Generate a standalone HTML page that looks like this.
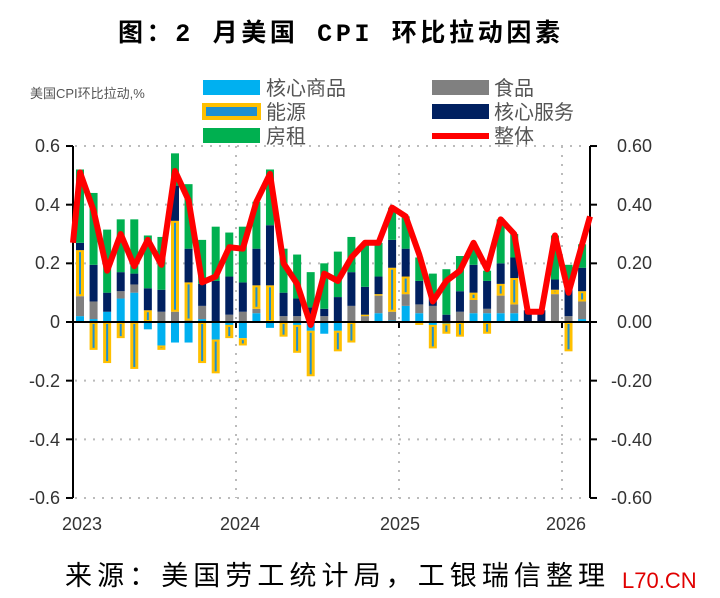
<!DOCTYPE html>
<html><head><meta charset="utf-8"><style>
body{margin:0;background:#fff;width:720px;height:598px;overflow:hidden;font-family:"Liberation Sans","Noto Sans CJK SC",sans-serif}
</style></head><body>
<svg id="s" width="720" height="598" xmlns="http://www.w3.org/2000/svg" style="position:absolute;left:0;top:0">
<text x="118" y="41" textLength="442" lengthAdjust="spacing" font-size="25" font-weight="bold" font-family="Liberation Mono,'Noto Sans CJK SC',sans-serif" fill="#000">图：2 月美国 CPI 环比拉动因素</text>
<text x="30" y="98" font-size="13" fill="#555">美国CPI环比拉动,%</text>
<rect x="203" y="80" width="57" height="15" fill="#00b0f0"/>
<text x="266" y="95" font-size="20" fill="#555">核心商品</text>
<rect x="204" y="105" width="55" height="13" fill="#1f8fd0" stroke="#ffc000" stroke-width="4"/>
<text x="266" y="119" font-size="20" fill="#555">能源</text>
<rect x="203" y="128" width="57" height="15" fill="#00b050"/>
<text x="266" y="143" font-size="20" fill="#555">房租</text>
<rect x="432" y="80" width="57" height="15" fill="#808080"/>
<text x="494" y="95" font-size="20" fill="#555">食品</text>
<rect x="432" y="104" width="57" height="15" fill="#002060"/>
<text x="494" y="119" font-size="20" fill="#555">核心服务</text>
<rect x="432" y="133" width="57" height="6" fill="#ff0000"/>
<text x="494" y="143" font-size="20" fill="#555">整体</text>
<g id="grid" stroke="#bbb" stroke-width="2" stroke-dasharray="2,7"></g>
<g id="bars"></g>
<line x1="73" y1="322" x2="590" y2="322" stroke="#000" stroke-width="2"/>
<line x1="73" y1="146" x2="73" y2="498" stroke="#000" stroke-width="2"/>
<line x1="590" y1="146" x2="590" y2="498" stroke="#000" stroke-width="2"/>
<g id="ticks" stroke="#000" stroke-width="2"></g>
<polyline id="ln" fill="none" stroke="#ff0000" stroke-width="6" stroke-linejoin="round"/>
<g font-size="18" fill="#333" text-anchor="end">
<text x="60" y="152">0.6</text><text x="60" y="211">0.4</text><text x="60" y="269">0.2</text><text x="60" y="328">0</text>
<text x="60" y="387">-0.2</text><text x="60" y="446">-0.4</text><text x="60" y="504">-0.6</text>
</g>
<g font-size="18" fill="#333" text-anchor="end">
<text x="652" y="152">0.60</text><text x="652" y="211">0.40</text><text x="652" y="269">0.20</text><text x="652" y="328">0.00</text>
<text x="652" y="387">-0.20</text><text x="652" y="446">-0.40</text><text x="652" y="504">-0.60</text>
</g>
<g font-size="18" fill="#333" text-anchor="middle">
<text x="82" y="530">2023</text><text x="240" y="530">2024</text><text x="400" y="530">2025</text><text x="566" y="530">2026</text>
</g>
<text x="65" y="585" textLength="540" lengthAdjust="spacing" font-size="27" fill="#000">来源：美国劳工统计局，工银瑞信整理</text>
<text x="622" y="588" font-size="22" fill="#e00000">L70.CN</text>
</svg>
<script>
var P=[[.02,.088,.245,.27,.52],[.01,.07,.07,.195,.44],[.035,.035,.035,.10,.315],[.08,.105,.105,.17,.35],[.10,.128,.128,.165,.35],[0,0,.04,.115,.295],[0,.035,.035,.11,.29],[0,.035,.345,.465,.575],[0,.005,.135,.25,.47],[.01,.055,.055,.13,.28],[0,0,0,.14,.325],[0,.025,.025,.155,.305],[0,.035,.035,.135,.325],[.03,.045,.125,.25,.41],[0,0,.125,.33,.52],[0,.02,.02,.10,.25],[0,.02,.02,.08,.23],[.005,.005,.005,.05,.17],[0,.02,.02,.045,.20],[0,0,0,.085,.24],[0,.055,.055,.17,.29],[0,.02,.025,.12,.27],[.03,.09,.095,.155,.27],[.005,.035,.185,.28,.39],[.055,.095,.155,.25,.36],[.03,.06,.06,.14,.22],[0,.055,.055,.08,.165],[0,0,0,.025,.18],[0,.035,.035,.105,.225],[.03,.075,.10,.195,.25],[.03,.045,.045,.14,.175],[.03,.09,.13,.20,.35],[.03,.06,.15,.22,.30],[0,0,0,.04,.04],[0,0,0,.04,.04],[0,.095,.11,.145,.295],[0,.02,.02,.125,.195],[.01,.07,.105,.185,.265]];
var N=[[0,0],[0,-.095],[0,-.14],[0,-.055],[0,-.16],[-.025,-.025],[-.08,-.095],[-.07,-.07],[-.07,-.07],[0,-.14],[-.06,-.175],[-.01,-.055],[-.055,-.08],[0,0],[-.02,-.02],[0,-.05],[-.01,-.105],[-.03,-.185],[-.04,-.04],[-.03,-.10],[0,-.07],[0,0],[0,0],[0,0],[0,0],[0,-.01],[-.01,-.09],[-.005,-.04],[0,-.05],[0,0],[0,-.04],[0,0],[0,0],[0,0],[0,0],[0,0],[0,-.10],[0,0]];
var L=[.51,.38,.175,.30,.19,.28,.195,.515,.415,.135,.155,.255,.25,.41,.505,.20,.13,-.01,.165,.14,.22,.27,.27,.39,.36,.23,.07,.14,.175,.27,.18,.35,.30,.035,.035,.295,.10];
var ns="http://www.w3.org/2000/svg";
function Y(v){return 322-v*293.3}
function X(i){return 80+i*13.57}
var g=document.getElementById('bars');
function rect(x,y1,y2,c){if(Math.abs(y2-y1)<0.3)return;var r=document.createElementNS(ns,'rect');r.setAttribute('x',x-4);r.setAttribute('y',Math.min(y1,y2));r.setAttribute('width',8);r.setAttribute('height',Math.abs(y2-y1));r.setAttribute('fill',c);g.appendChild(r);}
function energy(x,y1,y2){if(Math.abs(y2-y1)<0.3)return;rect(x,y1,y2,'#ffc000');var r=document.createElementNS(ns,'rect');var t=Math.min(y1,y2)+2,h=Math.abs(y2-y1)-4;if(h>0){r.setAttribute('x',x-1);r.setAttribute('y',t);r.setAttribute('width',2);r.setAttribute('height',h);r.setAttribute('fill','#1f8fd0');g.appendChild(r);}}
var cols=['#00b0f0','#808080','E','#002060','#00b050'];
for(var i=0;i<P.length;i++){var x=X(i),prev=0;
 for(var k=0;k<5;k++){var v=P[i][k];if(cols[k]=='E')energy(x,Y(prev),Y(v));else rect(x,Y(prev),Y(v),cols[k]);prev=v;}
 rect(x,Y(0),Y(N[i][0]),'#00b0f0');energy(x,Y(N[i][0]),Y(N[i][1]));}
var pts=['73,'+Y(.27)];for(var i=0;i<L.length;i++)pts.push(X(i)+','+Y(L[i]));pts.push('590,'+Y(.36));
document.getElementById('ln').setAttribute('points',pts.join(' '));
var gr=document.getElementById('grid'),tk=document.getElementById('ticks');
[.6,.4,.2,-.2,-.4,-.6].forEach(function(v){var l=document.createElementNS(ns,'line');l.setAttribute('x1',75);l.setAttribute('x2',588);l.setAttribute('y1',Y(v));l.setAttribute('y2',Y(v));gr.appendChild(l);});
[236,399,562].forEach(function(x){var l=document.createElementNS(ns,'line');l.setAttribute('x1',x);l.setAttribute('x2',x);l.setAttribute('y1',146);l.setAttribute('y2',498);gr.appendChild(l);
 var t=document.createElementNS(ns,'line');t.setAttribute('x1',x);t.setAttribute('x2',x);t.setAttribute('y1',322);t.setAttribute('y2',328);tk.appendChild(t);});
[.6,.4,.2,0,-.2,-.4,-.6].forEach(function(v){[[66,73],[590,597]].forEach(function(a){var t=document.createElementNS(ns,'line');t.setAttribute('x1',a[0]);t.setAttribute('x2',a[1]);t.setAttribute('y1',Y(v));t.setAttribute('y2',Y(v));tk.appendChild(t);});});
</script>
</body></html>
